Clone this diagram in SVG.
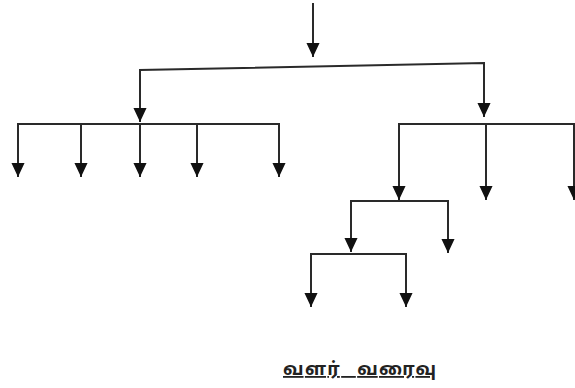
<svg xmlns="http://www.w3.org/2000/svg" width="575" height="388" viewBox="0 0 575 388">
<style>
.c{fill:none;stroke:#2a2a2a;stroke-width:2}
.a{fill:none;stroke:#2a2a2a;stroke-width:2;marker-end:url(#ah)}
.t{font-family:"Noto Sans Tamil","Latha","Lohit Tamil","Noto Sans",sans-serif;font-size:18px;font-weight:bold;fill:#222;text-decoration:underline;word-spacing:10px}
</style>
<defs>
<marker id="ah" markerUnits="userSpaceOnUse" markerWidth="14" markerHeight="15" refX="15" refY="7" orient="auto" viewBox="0 0 15 14">
<path d="M0,0 L15,7 L0,14 z" fill="#111"/>
</marker>
</defs>
<rect width="575" height="388" fill="#fff"/>
<g id="connectors">
<line class="a" x1="313" y1="3" x2="313" y2="57"/>
<polyline class="c" points="140,122 140,70 484,63 484,117"/>
<line class="a" x1="140" y1="100" x2="140" y2="122"/>
<line class="a" x1="484" y1="95" x2="484" y2="117"/>
<polyline class="c" points="18,177 18,124 279,124 279,177"/>
<line class="a" x1="18" y1="150" x2="18" y2="177"/>
<line class="a" x1="81" y1="124" x2="81" y2="177"/>
<line class="a" x1="140" y1="124" x2="140" y2="177"/>
<line class="a" x1="197" y1="124" x2="197" y2="177"/>
<line class="a" x1="279" y1="150" x2="279" y2="177"/>
<polyline class="c" points="399,200 399,124 574,124 574,200"/>
<line class="a" x1="399" y1="170" x2="399" y2="200"/>
<line class="a" x1="486" y1="124" x2="486" y2="200"/>
<line class="a" x1="574" y1="170" x2="574" y2="200"/>
<polyline class="c" points="351,252 351,201 448,201 448,253"/>
<line class="a" x1="351" y1="230" x2="351" y2="252"/>
<line class="a" x1="448" y1="230" x2="448" y2="253"/>
<polyline class="c" points="311,307 311,254 406,254 406,307"/>
<line class="a" x1="311" y1="280" x2="311" y2="307"/>
<line class="a" x1="406" y1="280" x2="406" y2="307"/>
</g>
<g id="label">
<text class="t" x="283" y="375" textLength="153" lengthAdjust="spacing">வளர் வரைவு</text>
</g>
</svg>
